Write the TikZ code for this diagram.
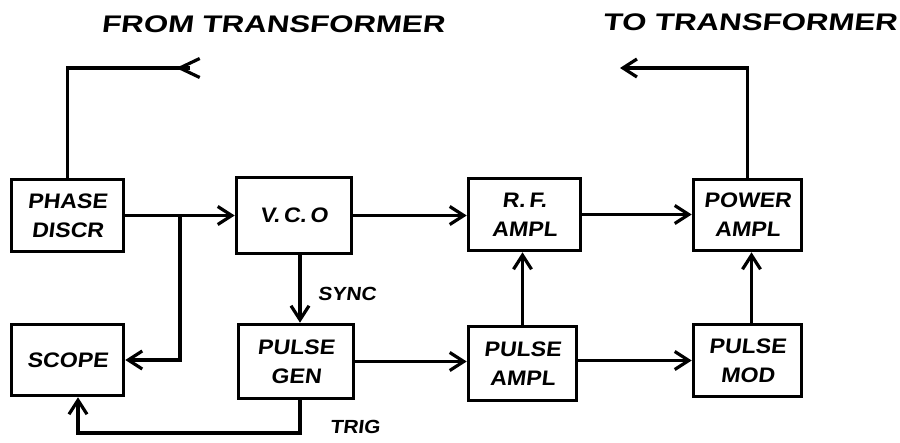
\documentclass[tikz,border=0pt]{standalone}
\usepackage{fontspec}
\newfontfamily\hand[FakeSlant=0.12,FakeStretch=1.1]{Liberation Sans}
\newfontfamily\handwide[FakeSlant=0.12,FakeStretch=1.3]{Liberation Sans}
\usetikzlibrary{arrows.meta,decorations.markings}
\begin{document}
\begin{tikzpicture}[x=1pt,y=-1pt,
  blockbox/.style={draw,line width=3.6pt,inner sep=0pt,align=center,
    font=\hand\bfseries\fontsize{21}{29}\selectfont},
  conn/.style={line width=3.2pt},
  arr/.style={-{Straight Barb[length=14pt,width=18pt]}},
  toplabel/.style={font=\handwide\bfseries\fontsize{24}{26}\selectfont,inner sep=0pt},
  sidelabel/.style={font=\hand\bfseries\fontsize{19}{22}\selectfont,inner sep=0pt},
  midarrow/.style={postaction={decorate},decoration={markings,
    mark=at position 14pt with {\arrow{Straight Barb[length=20pt,width=19pt]}}}}
]
\useasboundingbox (0,0) rectangle (900,443);

% labels on top
\node[toplabel] (fromT) at (273,24) {FROM TRANSFORMER};
\node[toplabel] (toT) at (750,22) {TO TRANSFORMER};

% blocks
\node[blockbox,minimum width=112pt,minimum height=72pt] (phase) at (67.5,215.5) {PHASE\\DISCR};
\node[blockbox,minimum width=115pt,minimum height=76pt] (vco) at (294,215.5) {V.\,C.\,O};
\node[blockbox,minimum width=112pt,minimum height=72pt] (rf) at (524.5,214.5) {R.\,F.\\AMPL};
\node[blockbox,minimum width=108pt,minimum height=71pt] (power) at (747.5,215) {POWER\\AMPL};
\node[blockbox,minimum width=112pt,minimum height=71pt] (scope) at (67.5,360) {SCOPE};
\node[blockbox,minimum width=115pt,minimum height=74pt] (pgen) at (296,361.5) {PULSE\\GEN};
\node[blockbox,minimum width=108pt,minimum height=74pt] (pampl) at (522.5,363.5) {PULSE\\AMPL};
\node[blockbox,minimum width=108pt,minimum height=72pt] (pmod) at (747.5,360.5) {PULSE\\MOD};

% coordinates for free ends and corners
\coordinate (fin) at (190,68);
\coordinate (fout) at (620,68);
\coordinate (j) at (180,215.5);
\coordinate (tb) at (78,433);

% transformer connections
\draw[conn,midarrow] (fin) -| (phase.north);
\draw[conn,arr] (power.north) |- (fout);

% main chain
\draw[conn,arr] (phase.east) -- (vco.west);
\draw[conn,arr] (j) |- (scope.east);
\draw[conn,arr] (vco.east) -- (vco.east -| rf.west);
\draw[conn,arr] (rf.east) -- (rf.east -| power.west);
\draw[conn,arr] ([xshift=6pt]vco.south) -- ([xshift=6pt]vco.south |- pgen.north);
\draw[conn,arr] (pgen.east) -- (pgen.east -| pampl.west);
\draw[conn,arr] ([yshift=3pt]pampl.east) -- ([yshift=3pt]pampl.east -| pmod.west);
\draw[conn,arr] (pampl.north) -- (pampl.north |- rf.south);
\draw[conn,arr] ([xshift=4pt]pmod.north) -- ([xshift=4pt]pmod.north |- power.south);
\draw[conn,arr] ([xshift=4pt]pgen.south) |- (tb) -- (tb |- scope.south);

% side labels
\node[sidelabel] (sync) at (347,294) {SYNC};
\node[sidelabel] (trig) at (355,427) {TRIG};
\end{tikzpicture}
\end{document}
